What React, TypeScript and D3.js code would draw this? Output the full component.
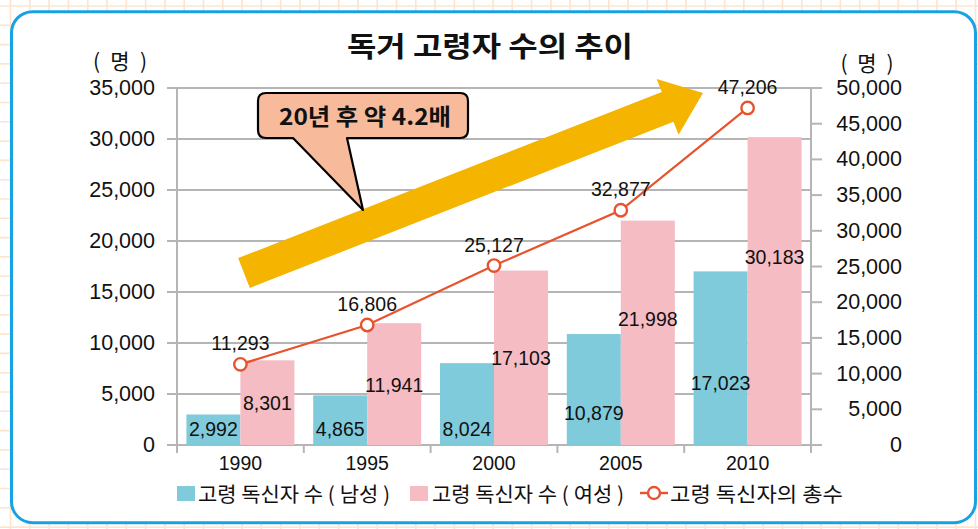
import React from 'react';
import * as d3 from 'd3';

const years = ['1990', '1995', '2000', '2005', '2010'];
const maleValues = [2992, 4865, 8024, 10879, 17023];
const femaleValues = [8301, 11941, 17103, 21998, 30183];
const totalValues = [11293, 16806, 25127, 32877, 47206];
const leftTicks = [0, 5000, 10000, 15000, 20000, 25000, 30000, 35000];
const rightTicks = [0, 5000, 10000, 15000, 20000, 25000, 30000, 35000, 40000, 45000, 50000];
// where each bar's value label sits (left-axis units), as placed in the original
const maleLabelAt = [1570, 1570, 1570, 3140, 6080];
const femaleLabelAt = [4120, 5880, 8530, 12350, 18430];

const seriesNames = ['고령 독신자 수 ( 남성 )', '고령 독신자 수 ( 여성 )', '고령 독신자의 총수'];
const title = '독거 고령자 수의 추이';
const unitLabel = '( 명 )';
const calloutText = '20년 후 약 4.2배';

const W = 978;
const H = 529;
const plot = { left: 177, right: 811, top: 88, bottom: 445 };

const BLUE = '#80cbdb';
const PINK = '#f5bcc3';
const RED = '#e8532d';
const GRID = '#b5b5b5';
const NUM_FONT = "'Liberation Sans', Arial, sans-serif";
const KR_FONT = "'Noto Sans CJK KR', 'Noto Sans', sans-serif";

export default function App() {
  const x = d3.scaleBand<string>().domain(years).range([plot.left, plot.right]).padding(0);
  const xs = d3.scaleBand<string>().domain(['m', 'f']).range([0, x.bandwidth()]).paddingInner(0).paddingOuter(0.174);
  const yL = d3.scaleLinear().domain([0, 35000]).range([plot.bottom, plot.top]);
  const yR = d3.scaleLinear().domain([0, 50000]).range([plot.bottom, plot.top]);
  const fmt = d3.format(',');
  const cx = (y: string) => (x(y) as number) + x.bandwidth() / 2;

  const line = d3.line<number>().x((_, i) => cx(years[i])).y((d) => yR(d));

  // background grid
  const bgV: number[] = [];
  for (let v = 10.5; v < W; v += 19.3) bgV.push(v);
  const bgH: number[] = [];
  for (let v = 6; v < H; v += 19.3) bgH.push(v);

  // annotation arrow
  const start = [244, 273];
  const tip = [703, 93];
  const dx = tip[0] - start[0];
  const dy = tip[1] - start[1];
  const len = Math.hypot(dx, dy);
  const u = [dx / len, dy / len];
  const n = [-u[1], u[0]];
  const sw = 16, hw = 30, hl = 38;
  const base = [tip[0] - hl * u[0], tip[1] - hl * u[1]];
  const p = (a: number[], k: number) => `${a[0] + k * n[0]},${a[1] + k * n[1]}`;
  const arrowPts = [p(start, sw), p(base, sw), p(base, hw), `${tip[0]},${tip[1]}`, p(base, -hw), p(base, -sw), p(start, -sw)].join(' ');

  const boundaries = [...years.map((y) => x(y) as number), plot.right];

  return (
    <svg width={W} height={H} style={{ position: 'absolute', left: 0, top: 0, background: '#fff' }}>
      <g stroke="#fce4cf" strokeWidth={1.6}>
        {bgV.map((v, i) => <line key={'v' + i} x1={v} x2={v} y1={0} y2={H} />)}
        {bgH.map((v, i) => <line key={'h' + i} x1={0} x2={W} y1={v} y2={v} />)}
      </g>
      <rect x={11.5} y={11.7} width={964} height={511} rx={21} fill="#fff" stroke="#17a2e6" strokeWidth={3} />

      {/* gridlines */}
      <g stroke={GRID} strokeWidth={2}>
        {leftTicks.map((t) => (
          <line key={t} x1={plot.left - 10} x2={plot.right} y1={yL(t)} y2={yL(t)} />
        ))}
        <line x1={plot.left} x2={plot.left} y1={plot.top} y2={plot.bottom + 8} />
        <line x1={plot.right} x2={plot.right} y1={plot.top} y2={plot.bottom + 8} />
        {boundaries.map((b, i) => (
          <line key={'b' + i} x1={b} x2={b} y1={plot.bottom} y2={plot.bottom + 8} />
        ))}
        {rightTicks.map((t) => (
          <line key={'r' + t} x1={plot.right} x2={plot.right + 11} y1={yR(t)} y2={yR(t)} />
        ))}
      </g>

      {/* bars */}
      {years.map((y, i) => (
        <g key={y}>
          <rect x={(x(y) as number) + (xs('m') as number)} y={yL(maleValues[i])} width={xs.bandwidth()} height={plot.bottom - yL(maleValues[i])} fill={BLUE} />
          <rect x={(x(y) as number) + (xs('f') as number)} y={yL(femaleValues[i])} width={xs.bandwidth()} height={plot.bottom - yL(femaleValues[i])} fill={PINK} />
        </g>
      ))}

      {/* arrow annotation */}
      <polygon points={arrowPts} fill="#f5b400" />

      {/* total line */}
      <path d={line(totalValues) || ''} fill="none" stroke={RED} strokeWidth={2.2} />
      {totalValues.map((v, i) => (
        <circle key={i} cx={cx(years[i])} cy={yR(v)} r={6.2} fill="#fff" stroke={RED} strokeWidth={2.4} />
      ))}

      {/* data labels */}
      <g fontFamily={NUM_FONT} fontSize={19.5} fill="#111" textAnchor="middle" dominantBaseline="central">
        {years.map((y, i) => (
          <g key={y}>
            <text x={(x(y) as number) + (xs('m') as number) + xs.bandwidth() / 2} y={yL(maleLabelAt[i])}>{fmt(maleValues[i])}</text>
            <text x={(x(y) as number) + (xs('f') as number) + xs.bandwidth() / 2} y={yL(femaleLabelAt[i])}>{fmt(femaleValues[i])}</text>
            <text x={cx(y)} y={yR(totalValues[i]) - 21}>{fmt(totalValues[i])}</text>
          </g>
        ))}
      </g>

      {/* callout */}
      <path
        d="M266,93 H460 Q468,93 468,101 V130 Q468,138 460,138 H347 L363,210 L293,138 H266 Q258,138 258,130 V101 Q258,93 266,93 Z"
        fill="#f7bb9c"
        stroke="#000"
        strokeWidth={2.2}
        strokeLinejoin="round"
      />
      <text x={365} y={115} fontFamily={KR_FONT} fontWeight={700} fontSize={23} textAnchor="middle" dominantBaseline="central" textLength={172} lengthAdjust="spacingAndGlyphs" fill="#111">
        {calloutText}
      </text>

      {/* axes tick labels */}
      <g fontFamily={NUM_FONT} fontSize={21.5} fill="#111" dominantBaseline="central" textAnchor="end">
        {leftTicks.map((t) => (
          <text key={t} x={155} y={yL(t)}>{fmt(t)}</text>
        ))}
        {rightTicks.map((t) => (
          <text key={t} x={902} y={yR(t)}>{fmt(t)}</text>
        ))}
      </g>
      <g fontFamily={NUM_FONT} fontSize={19.5} fill="#111" textAnchor="middle" dominantBaseline="central">
        {years.map((y) => (
          <text key={y} x={cx(y)} y={463}>{y}</text>
        ))}
      </g>

      {/* units */}
      <g fontFamily={KR_FONT} fontSize={21} fill="#111" textAnchor="middle" dominantBaseline="central">
        <text x={120} y={60} textLength={54} lengthAdjust="spacing">{unitLabel}</text>
        <text x={867} y={62} textLength={53} lengthAdjust="spacing">{unitLabel}</text>
      </g>

      {/* title */}
      <text x={490} y={45} fontFamily={KR_FONT} fontWeight={700} fontSize={28} textAnchor="middle" dominantBaseline="central" textLength={286} lengthAdjust="spacingAndGlyphs" fill="#111">
        {title}
      </text>

      {/* legend */}
      <g fontFamily={KR_FONT} fontSize={20.5} fill="#111" dominantBaseline="central" lengthAdjust="spacingAndGlyphs">
        <rect x={177} y={486} width={18} height={15} fill={BLUE} />
        <text x={198} y={493} textLength={192} lengthAdjust="spacingAndGlyphs">{seriesNames[0]}</text>
        <rect x={410} y={486} width={18} height={15} fill={PINK} />
        <text x={432} y={493} textLength={192} lengthAdjust="spacingAndGlyphs">{seriesNames[1]}</text>
        <line x1={640} x2={668} y1={493} y2={493} stroke={RED} strokeWidth={2.4} />
        <circle cx={654} cy={493} r={6} fill="#fff" stroke={RED} strokeWidth={2.4} />
        <text x={670} y={493} textLength={173} lengthAdjust="spacingAndGlyphs">{seriesNames[2]}</text>
      </g>
    </svg>
  );
}
